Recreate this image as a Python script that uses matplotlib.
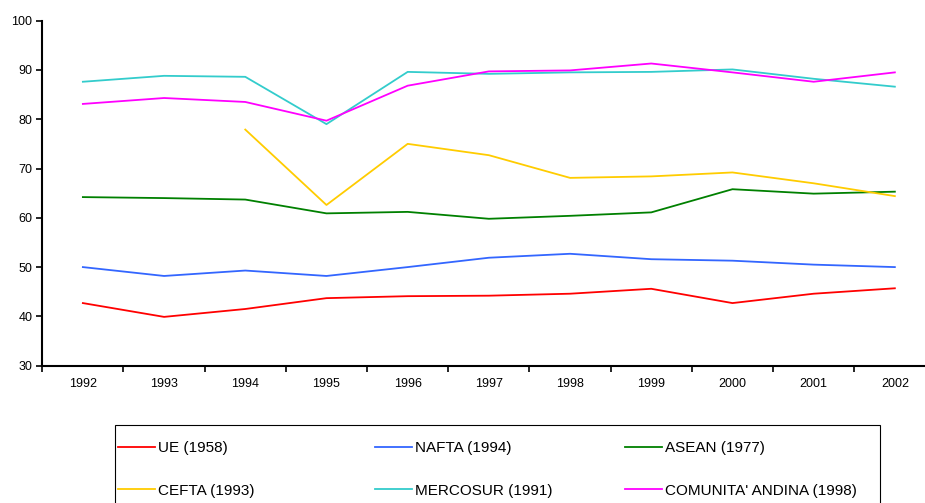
import matplotlib

matplotlib.use('Agg')  # Use non-GUI backend
import matplotlib.pyplot as plt
from matplotlib.patches import Rectangle
import numpy as np

plt.rcParams['font.family'] = ['Liberation Sans', 'DejaVu Sans']

years = ['1992', '1993', '1994', '1995', '1996', '1997', '1998', '1999', '2000', '2001', '2002']

ue = [42.7, 39.9, 41.5, 43.7, 44.1, 44.2, 44.6, 45.6, 42.7, 44.6, 45.7]
nafta = [50.0, 48.2, 49.3, 48.2, 50.0, 51.9, 52.7, 51.6, 51.3, 50.5, 50.0]
asean = [64.2, 64.0, 63.7, 60.9, 61.2, 59.8, 60.4, 61.1, 65.8, 64.9, 65.3]
cefta = [np.nan, np.nan, 77.9, 62.6, 75.0, 72.7, 68.1, 68.4, 69.2, 67.0, 64.4]
mercosur = [87.6, 88.8, 88.6, 79.0, 89.6, 89.2, 89.5, 89.6, 90.1, 88.2, 86.6]
andina = [83.1, 84.3, 83.5, 79.7, 86.8, 89.7, 89.9, 91.3, 89.5, 87.6, 89.5]

labels = ['UE (1958)', 'NAFTA (1994)', 'ASEAN (1977)',
          'CEFTA (1993)', 'MERCOSUR (1991)', "COMUNITA' ANDINA (1998)"]
colors = ['#FF0000', '#3366FF', '#008000', '#FFCC00', '#33CCCC', '#FF00FF']
series = [ue, nafta, asean, cefta, mercosur, andina]

W, H = 925, 503
fig = plt.figure(figsize=(W / 100, H / 100), dpi=100)
ax = fig.add_axes([0.0457, 0.273, 0.9656, 0.686])

x = np.arange(len(years))
handles = []
for vals, col, lab in zip(series, colors, labels):
    h, = ax.plot(x, vals, color=col, lw=1.3, label=lab)
    handles.append(h)

ax.set_xlim(-0.5, len(years) - 0.5)
ax.set_ylim(30, 100)
ax.set_yticks(range(30, 101, 10))

# category ticks between the years, labels centred
ax.set_xticks(np.arange(-0.5, len(years), 1.0))
ax.set_xticklabels([])
ax.set_xticks(x, minor=True)
ax.set_xticklabels(years, minor=True)
ax.tick_params(axis='x', which='minor', length=0, pad=9, labelsize=9)
ax.tick_params(axis='x', which='major', length=4, width=1.2)
ax.tick_params(axis='y', length=4, width=1.2, labelsize=9, pad=3)

for s in ['top', 'right']:
    ax.spines[s].set_visible(False)
for s in ['left', 'bottom']:
    ax.spines[s].set_linewidth(1.5)

# legend box (Excel style: equal width columns, row-wise order)
fig.add_artist(Rectangle((115 / W, -10 / H), 765 / W, 88 / H,
                         transform=fig.transFigure, fill=False,
                         edgecolor='black', lw=0.8))
col_x = [118, 375, 625]
for c in range(3):
    idx = [c, c + 3]
    fig.legend([handles[i] for i in idx], [labels[i] for i in idx],
               loc='upper left', bbox_to_anchor=(col_x[c] / W, 1 - 441 / H),
               fontsize=11, frameon=False, handlelength=2.45,
               handletextpad=0.15, labelspacing=1.88,
               borderpad=0, borderaxespad=0)

fig.savefig('out.png', dpi=100)
